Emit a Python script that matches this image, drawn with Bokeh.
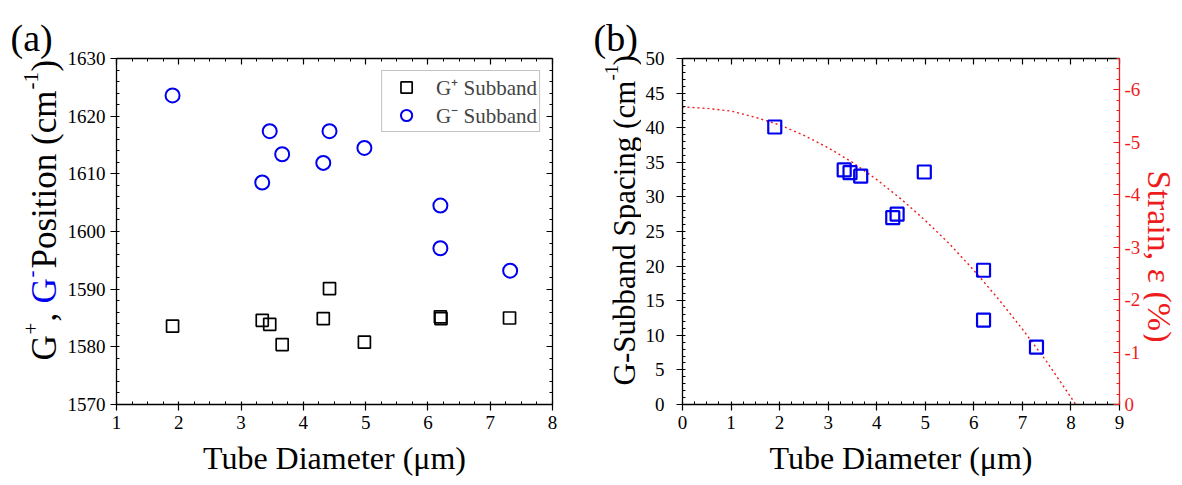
import numpy as np
from bokeh.plotting import figure
from bokeh.models import (Range1d, LinearAxis, FixedTicker, Label, Legend, LegendItem,
                          CustomJSTickFormatter)
from bokeh.layouts import row
from bokeh.embed import file_html
from bokeh.resources import INLINE

# ---------------- data ----------------
# panel (a)
diam_plus = [1.90, 3.34, 3.46, 3.66, 4.32, 4.42, 4.98, 6.20, 6.21, 7.31]
gplus_pos = [1583.6, 1584.6, 1583.9, 1580.4, 1584.9, 1590.1, 1580.8, 1585.2, 1584.9, 1585.0]
diam_minus = [1.90, 3.34, 3.46, 3.66, 4.32, 4.42, 4.98, 6.20, 6.20, 7.32]
gminus_pos = [1623.6, 1608.5, 1617.4, 1613.4, 1611.9, 1617.4, 1614.5, 1604.5, 1597.1, 1593.2]
legend_labels = ["G\u207a Subband", "G\u207b Subband"]

# panel (b)
diam_b = [1.90, 3.33, 3.45, 3.67, 4.33, 4.42, 4.98, 6.20, 6.20, 7.29]
spacing = [40.1, 33.9, 33.5, 33.0, 27.0, 27.5, 33.6, 19.4, 12.2, 8.3]
fit_d = [0.0, 0.5, 1.0, 1.5, 2.0, 2.5, 3.0, 3.5, 4.0, 4.5, 5.0, 5.5, 6.0, 6.5, 7.0, 7.5, 8.1]
fit_s = [43.0, 42.8, 42.4, 41.5, 40.4, 38.9, 37.1, 35.0, 32.5, 29.7, 26.6, 23.2, 19.4, 15.3, 10.9, 6.2, 0.0]

x_title = "Tube Diameter (\u03bcm)"

FONT = "Liberation Serif"
BLUE = "#0000ee"
RED = "#ee1c1c"
TICK_FS = "19px"
TITLE_FS = "32px"

TOTAL_H = 476
TOP = 58
FRAME_H = 346
BOTTOM = TOTAL_H - TOP - FRAME_H
HALF_PI = np.pi / 2


def make_fig(x0, x1, y0, y1, fw, mbl, mbr):
    p = figure(output_backend="svg", toolbar_location=None,
               frame_width=fw, frame_height=FRAME_H,
               x_range=Range1d(x0, x1), y_range=Range1d(y0, y1),
               min_border_left=mbl, min_border_right=mbr,
               min_border_top=TOP, min_border_bottom=BOTTOM,
               x_axis_location=None, y_axis_location=None)
    p.grid.visible = False
    p.outline_line_color = None
    return p


def label_fig(w):
    """A bare canvas whose data units are pixels (y measured upward from the bottom)."""
    p = figure(output_backend="svg", toolbar_location=None,
               frame_width=w, frame_height=TOTAL_H,
               x_range=Range1d(0, w), y_range=Range1d(0, TOTAL_H),
               min_border_left=0, min_border_right=0, min_border_top=0, min_border_bottom=0,
               x_axis_location=None, y_axis_location=None)
    p.frame_align = False
    p.grid.visible = False
    p.outline_line_color = None
    return p


def style_axis(ax, color="black", labels=True, ticks=None, minor=None):
    ax.ticker = FixedTicker(ticks=ticks, minor_ticks=minor)
    ax.axis_line_color = color
    ax.axis_line_width = 1.3
    ax.major_tick_line_color = color
    ax.minor_tick_line_color = color
    ax.major_tick_line_width = 1.2
    ax.minor_tick_line_width = 1.0
    if labels:
        ax.major_tick_in = 3
        ax.major_tick_out = 6
        ax.minor_tick_in = 3
        ax.minor_tick_out = 0
        ax.major_label_text_font = FONT
        ax.major_label_text_font_size = TICK_FS
        ax.major_label_text_color = color
        ax.major_label_standoff = 5
    else:
        ax.major_tick_in = 6
        ax.major_tick_out = 0
        ax.minor_tick_in = 3
        ax.minor_tick_out = 0
        ax.formatter = CustomJSTickFormatter(code="return ''")
        ax.major_label_standoff = 0
    ax.axis_label_text_font = FONT
    ax.axis_label_text_font_size = TITLE_FS
    ax.axis_label_text_font_style = "normal"
    ax.axis_label_text_color = color
    return ax


def tlabel(p, px, py, text, size, color="black", angle=0.0, align="left"):
    """px: x inside the strip, py: page y measured from the top."""
    p.add_layout(Label(x=px, y=TOTAL_H - py, text=text, text_font=FONT, text_font_size=size,
                       text_color=color, angle=angle, text_align=align,
                       text_baseline="alphabetic"))


# ---------------- title strip left of panel (a) ----------------
LA_W = 64
labA = label_fig(LA_W)
tlabel(labA, 10, 37, "(a)", "38px")
base_x, sup_x = 44, 30
pieces_a = [
    ("G", "35px", "black", base_x, 360),
    ("+", "21px", "black", sup_x, 334),
    (" ,", "35px", "black", base_x, 321),
    ("G", "35px", BLUE, base_x, 303),
    ("-", "21px", BLUE, sup_x, 277),
    (" Position (cm", "35px", "black", base_x, 268),
    ("-1", "21px", "black", sup_x, 89),
    (")", "35px", "black", base_x, 71),
]
for txt, fs, col, px, py in pieces_a:
    tlabel(labA, px, py, txt, fs, col, angle=HALF_PI)

# ---------------- panel (a) ----------------
AFW = 436
p1 = make_fig(1, 8, 1570, 1630, AFW, 113 - LA_W, 31)

xa_ticks = list(range(1, 9))
xa_minor = [v for v in np.arange(1, 8.001, 0.25) if abs(v - round(v)) > 1e-6]
ya_ticks = list(range(1570, 1631, 10))
ya_minor = [v for v in range(1570, 1631, 2) if v % 10]

bx = style_axis(LinearAxis(axis_label=x_title), ticks=xa_ticks, minor=xa_minor)
bx.axis_label_standoff = 8
p1.add_layout(bx, "below")
p1.add_layout(style_axis(LinearAxis(), labels=False, ticks=xa_ticks, minor=xa_minor), "above")
ly = style_axis(LinearAxis(), ticks=ya_ticks, minor=ya_minor)
ly.major_label_standoff = 5
p1.add_layout(ly, "left")
p1.add_layout(style_axis(LinearAxis(), labels=False, ticks=ya_ticks, minor=ya_minor), "right")

r_plus = p1.scatter(diam_plus, gplus_pos, marker="square", size=12,
                    fill_color=None, line_color="black", line_width=1.7)
r_minus = p1.scatter(diam_minus, gminus_pos, marker="circle", size=14,
                     fill_color=None, line_color=BLUE, line_width=2.0)

legend = Legend(items=[LegendItem(label=legend_labels[0], renderers=[r_plus]),
                       LegendItem(label=legend_labels[1], renderers=[r_minus])],
                location="top_right", margin=12, padding=2, spacing=0,
                glyph_width=44, glyph_height=28, label_height=28, label_standoff=8,
                label_text_font=FONT, label_text_font_size="21px",
                label_text_baseline="middle",
                border_line_color="#888888", border_line_width=1.2,
                background_fill_alpha=1.0)
p1.add_layout(legend)

# ---------------- title strip left of panel (b) ----------------
LB_W = 58
OB = 580  # page x of this strip
labB = label_fig(LB_W)
tlabel(labB, 590 - OB, 37, "(b)", "38px")
tlabel(labB, 621 - OB, 385, "G-Subband Spacing (cm", "31px", angle=HALF_PI)
tlabel(labB, 608 - OB, 80, "-1", "19px", angle=HALF_PI)
tlabel(labB, 621 - OB, 65, ")", "31px", angle=HALF_PI)

# ---------------- panel (b) ----------------
BFW = 437
OC = 1137  # page x of the right strip
p2 = make_fig(0, 9, 0, 50, BFW, 679 - (OB + LB_W), OC - 1116)
p2.extra_y_ranges = {"strain": Range1d(0, -6.6)}

xb_ticks = list(range(0, 10))
xb_minor = [v for v in np.arange(0, 9.001, 0.25) if abs(v - round(v)) > 1e-6]
yb_ticks = list(range(0, 51, 5))
yb_minor = [v for v in range(0, 51) if v % 5]
s_ticks = [0, -1, -2, -3, -4, -5, -6]
s_minor = [v for v in np.arange(-6.6, 0.001, 0.2) if abs(v - round(v)) > 1e-6]

bx2 = style_axis(LinearAxis(axis_label=x_title), ticks=xb_ticks, minor=xb_minor)
bx2.axis_label_standoff = 8
p2.add_layout(bx2, "below")
p2.add_layout(style_axis(LinearAxis(), labels=False, ticks=xb_ticks, minor=xb_minor), "above")
ly2 = style_axis(LinearAxis(), ticks=yb_ticks, minor=yb_minor)
ly2.major_label_standoff = 12
p2.add_layout(ly2, "left")
sax = style_axis(LinearAxis(y_range_name="strain"), color=RED, ticks=s_ticks, minor=s_minor)
sax.major_label_overrides = {t: str(t) for t in s_ticks}
sax.major_tick_in = 6
sax.major_tick_out = 0
sax.minor_tick_in = 3
sax.major_label_standoff = 5
p2.add_layout(sax, "right")

p2.line(fit_d, fit_s, line_color=RED, line_dash="2 3", line_width=1.4)
p2.scatter(diam_b, spacing, marker="square", size=13, fill_color=None,
           line_color=BLUE, line_width=2.2)

# ---------------- title strip right of panel (b) ----------------
labC = label_fig(44)
tlabel(labC, 1153 - OC, 256, "Strain, \u03b5 (%)", "34px", RED, angle=-HALF_PI, align="center")

layout = row(labA, p1, labB, p2, labC)
open("out.html", "w").write(file_html(layout, INLINE))
